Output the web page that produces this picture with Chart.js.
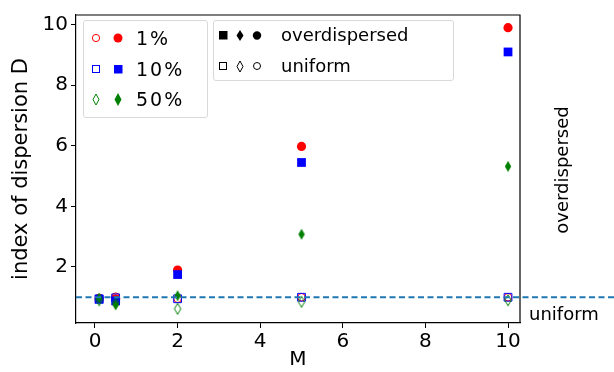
<!DOCTYPE html>
<html>
<head>
<meta charset="utf-8">
<script src="https://cdn.jsdelivr.net/npm/chart.js@4"></script>
<style>
  body { margin: 0; background: #fff; }
  #wrap { position: relative; width: 614px; height: 372px; font-family: "DejaVu Sans", sans-serif; }
  #wrap canvas { position: absolute; left: 0; top: 0; }
  .lbl { position: absolute; color: #000; white-space: nowrap; line-height: 1; }
  .box { position: absolute; border: 1px solid #d9d9d9; border-radius: 3px; background: rgba(255,255,255,0.8); }
  svg { position: absolute; left: 0; top: 0; pointer-events: none; }
</style>
</head>
<body>
<div id="wrap">
  <canvas id="dispersionChart" width="614" height="372"></canvas>
  <div class="box" style="left:83px;top:20px;width:123px;height:96px;"></div>
  <div class="box" style="left:213px;top:20px;width:239px;height:59px;"></div>
  <svg width="614" height="372">
    <!-- legend 1 -->
    <circle cx="96" cy="38" r="3.6" fill="none" stroke="red" stroke-width="1"/>
    <circle cx="118" cy="38" r="4.5" fill="red"/>
    <rect x="92.5" y="65.5" width="7" height="7" fill="none" stroke="blue" stroke-width="1"/>
    <rect x="114" y="65" width="8.5" height="8.5" fill="blue"/>
    <polygon points="96,94 99,99.5 96,105 93,99.5" fill="none" stroke="green" stroke-width="1"/>
    <polygon points="118,93 121.5,99.5 118,106 114.5,99.5" fill="green"/>
    <!-- legend 2 -->
    <rect x="219" y="31" width="8.5" height="8.5" fill="black"/>
    <polygon points="240,30 243.5,35.5 240,41 236.5,35.5" fill="black"/>
    <circle cx="257" cy="35.5" r="4.2" fill="black"/>
    <rect x="219.5" y="62.5" width="7" height="7" fill="none" stroke="black" stroke-width="1"/>
    <polygon points="240,61 243,66.5 240,72 237,66.5" fill="none" stroke="black" stroke-width="1"/>
    <circle cx="257" cy="66" r="3.5" fill="none" stroke="black" stroke-width="1"/>
  </svg>
  <div class="lbl" style="left:136px;top:29px;font-size:19px;letter-spacing:2px;">1%</div>
  <div class="lbl" style="left:136px;top:60px;font-size:19px;letter-spacing:2px;">10%</div>
  <div class="lbl" style="left:136px;top:90px;font-size:19px;letter-spacing:2px;">50%</div>
  <div class="lbl" style="left:281px;top:26px;font-size:18px;">overdispersed</div>
  <div class="lbl" style="left:281px;top:57px;font-size:18px;">uniform</div>
  <div class="lbl" style="left:562px;top:170px;font-size:18px;transform:translate(-50%,-50%) rotate(-90deg);">overdispersed</div>
  <div class="lbl" style="left:529px;top:305px;font-size:18px;">uniform</div>
</div>
<script>
// x positions (M)
const mValues = [0.1, 0.5, 2, 5, 10];

// filled markers = overdispersed, open markers = uniform
const red1Over = [0.95, 0.95, 1.9, 5.98, 9.9];
const red1Unif = [0.98, 1.02, 0.95, 1.0, 1.0];
const blue10Over = [0.93, 0.88, 1.75, 5.45, 9.1];
const blue10Unif = [0.95, 0.98, 0.95, 1.0, 1.0];
const green50Over = [0.97, 0.75, 1.05, 3.08, 5.32];
const green50Unif = [0.9, 0.82, 0.62, 0.85, 0.9];

const xTicks = [0, 2, 4, 6, 8, 10];
const yTicks = [2, 4, 6, 8, 10];

// thin diamond marker like matplotlib "d"
function diamond(color, filled) {
  const c = document.createElement("canvas");
  c.width = 10;
  c.height = 14;
  const g = c.getContext("2d");
  g.beginPath();
  g.moveTo(5, 1.5);
  g.lineTo(8.2, 7);
  g.lineTo(5, 12.5);
  g.lineTo(1.8, 7);
  g.closePath();
  if (filled) {
    g.fillStyle = color;
    g.fill();
  } else {
    g.strokeStyle = color;
    g.lineWidth = 1;
    g.stroke();
  }
  return c;
}

const toPoints = (ys) => ys.map((y, i) => ({ x: mValues[i], y: y }));

// dashed line at D = 1 (runs past the plot to the canvas edge) + top/right spines
const extras = {
  id: "extras",
  afterDatasetsDraw(chart) {
    const ctx = chart.ctx;
    const a = chart.chartArea;
    const y = chart.scales.y.getPixelForValue(1);
    ctx.save();
    ctx.strokeStyle = "#1f77b4";
    ctx.lineWidth = 1.8;
    ctx.setLineDash([6, 3.5]);
    ctx.beginPath();
    ctx.moveTo(a.left, y);
    ctx.lineTo(614, y);
    ctx.stroke();
    ctx.setLineDash([]);
    ctx.strokeStyle = "#000";
    ctx.lineWidth = 1.2;
    ctx.beginPath();
    ctx.moveTo(a.left, a.top);
    ctx.lineTo(a.right, a.top);
    ctx.lineTo(a.right, a.bottom);
    ctx.stroke();
    ctx.restore();
  },
};

const ctx = document.getElementById("dispersionChart").getContext("2d");
new Chart(ctx, {
  type: "scatter",
  data: {
    datasets: [
      { data: toPoints(green50Unif), pointStyle: diamond("green", false), pointRadius: 5 },
      { data: toPoints(green50Over), pointStyle: diamond("green", true), pointRadius: 5 },
      { data: toPoints(blue10Unif), pointStyle: "rect", pointRadius: 5.5, borderColor: "blue", backgroundColor: "rgba(0,0,0,0)", borderWidth: 1 },
      { data: toPoints(blue10Over), pointStyle: "rect", pointRadius: 6.2, borderColor: "blue", backgroundColor: "blue", borderWidth: 0 },
      { data: toPoints(red1Unif), pointStyle: "circle", pointRadius: 3.8, borderColor: "red", backgroundColor: "rgba(0,0,0,0)", borderWidth: 1 },
      { data: toPoints(red1Over), pointStyle: "circle", pointRadius: 4.6, borderColor: "red", backgroundColor: "red", borderWidth: 0 },
    ],
  },
  options: {
    responsive: false,
    animation: false,
    layout: { padding: { top: 10, right: 94, left: 0, bottom: 0 } },
    plugins: { legend: { display: false }, tooltip: { enabled: false } },
    scales: {
      x: {
        type: "linear",
        min: -0.46,
        max: 10.29,
        afterBuildTicks: (scale) => {
          scale.ticks = xTicks.map((v) => ({ value: v }));
        },
        afterFit: (scale) => {
          scale.height = 49;
        },
        border: { color: "#000", width: 1.2 },
        grid: { drawOnChartArea: false, drawTicks: true, tickLength: 5, tickColor: "#000" },
        ticks: { color: "#000", font: { family: "DejaVu Sans", size: 20 }, padding: 2, maxRotation: 0 },
        title: { display: true, text: "M", color: "#000", font: { family: "DejaVu Sans", size: 20 }, padding: { top: -6, bottom: 0 } },
      },
      y: {
        type: "linear",
        min: 0.15,
        max: 10.32,
        afterBuildTicks: (scale) => {
          scale.ticks = yTicks.map((v) => ({ value: v }));
        },
        afterFit: (scale) => {
          scale.width = 76;
        },
        border: { color: "#000", width: 1.2 },
        grid: { drawOnChartArea: false, drawTicks: true, tickLength: 5, tickColor: "#000" },
        ticks: { color: "#000", font: { family: "DejaVu Sans", size: 20 }, padding: 3 },
        title: { display: true, text: "index of dispersion D", color: "#000", font: { family: "DejaVu Sans", size: 21 }, padding: { top: 9, bottom: 0 } },
      },
    },
  },
  plugins: [extras],
});
</script>
</body>
</html>
